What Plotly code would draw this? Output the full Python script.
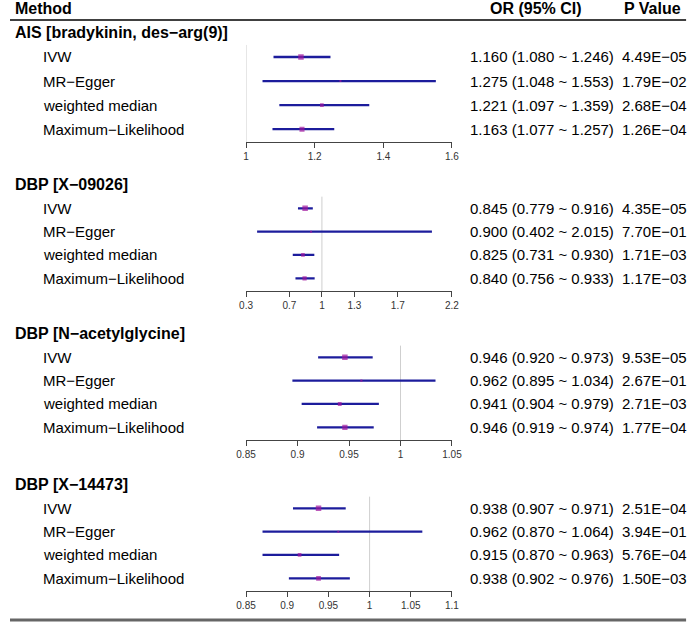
import math
import plotly.graph_objects as go

# ---------------- data ----------------
methods = ["IVW", "MR\u2212Egger", "weighted median", "Maximum\u2212Likelihood"]
panel_titles = ["AIS [bradykinin, des\u2212arg(9)]", "DBP [X\u221209026]",
                "DBP [N\u2212acetylglycine]", "DBP [X\u221214473]"]

or_est = [
    [1.160, 1.275, 1.221, 1.163],
    [0.845, 0.900, 0.825, 0.840],
    [0.946, 0.962, 0.941, 0.946],
    [0.938, 0.962, 0.915, 0.938],
]
ci_low = [
    [1.080, 1.048, 1.097, 1.077],
    [0.779, 0.402, 0.731, 0.756],
    [0.920, 0.895, 0.904, 0.919],
    [0.907, 0.870, 0.870, 0.902],
]
ci_high = [
    [1.246, 1.553, 1.359, 1.257],
    [0.916, 2.015, 0.930, 0.933],
    [0.973, 1.034, 0.979, 0.974],
    [0.971, 1.064, 0.963, 0.976],
]
p_values = [
    ["4.49E\u221205", "1.79E\u221202", "2.68E\u221204", "1.26E\u221204"],
    ["4.35E\u221205", "7.70E\u221201", "1.71E\u221203", "1.17E\u221203"],
    ["9.53E\u221205", "2.67E\u221201", "2.71E\u221203", "1.77E\u221204"],
    ["2.51E\u221204", "3.94E\u221201", "5.76E\u221204", "1.50E\u221203"],
]
tick_vals = [
    [1, 1.2, 1.4, 1.6],
    [0.3, 0.7, 1, 1.3, 1.7, 2.2],
    [0.85, 0.9, 0.95, 1, 1.05],
    [0.85, 0.9, 0.95, 1, 1.05, 1.1],
]
tick_text = [
    ["1", "1.2", "1.4", "1.6"],
    ["0.3", "0.7", "1", "1.3", "1.7", "2.2"],
    ["0.85", "0.9", "0.95", "1", "1.05"],
    ["0.85", "0.9", "0.95", "1", "1.05", "1.1"],
]

# ---------------- layout constants ----------------
W, H = 699, 625
FONT = "Liberation Sans, Arial, sans-serif"
ROW1_PX = [57.0, 208.3, 357.3, 508.3]
ROW4_PX = [129.2, 278.3, 427.3, 578.3]
X_LEFT_PX, X_RIGHT_PX = 243, 455
Y_TOP, Y_BOT = -0.55, 4.55
CI_COLOR = "#1c1c9c"
PT_COLOR = "#a0169e"
MAX_SIZE = 5.5


def px_x(p):
    return p / W


def px_y(p):
    return 1 - p / H


fig = go.Figure()
annotations = []
shapes = []
rows = [1, 2, 3, 4]

for k in range(4):
    n = k + 1
    xa = "x" if n == 1 else f"x{n}"
    ya = "y" if n == 1 else f"y{n}"
    unit = (ROW4_PX[k] - ROW1_PX[k]) / 3
    top_px = ROW1_PX[k] - (1 - Y_TOP) * unit
    bot_px = ROW4_PX[k] + (Y_BOT - 4) * unit

    se = [(math.log(h) - math.log(l)) / 3.92 for l, h in zip(ci_low[k], ci_high[k])]
    se_min = min(se)
    sizes = [max(2.0, MAX_SIZE * se_min / s) for s in se]

    fig.add_trace(go.Scatter(
        x=or_est[k], y=rows, mode="markers",
        marker=dict(symbol="square", size=sizes, color=PT_COLOR, line=dict(width=0)),
        error_x=dict(type="data", symmetric=False,
                     array=[h - e for h, e in zip(ci_high[k], or_est[k])],
                     arrayminus=[e - l for e, l in zip(or_est[k], ci_low[k])],
                     color=CI_COLOR, thickness=2.3, width=0),
        xaxis=xa, yaxis=ya, showlegend=False, hoverinfo="skip",
    ))

    lo, hi = tick_vals[k][0], tick_vals[k][-1]
    fig.layout[("xaxis" if n == 1 else f"xaxis{n}")] = dict(
        domain=[px_x(X_LEFT_PX), px_x(X_RIGHT_PX)], anchor=ya, range=[lo, hi],
        showgrid=False, zeroline=False, showline=True, linecolor="#444444", linewidth=1,
        ticks="outside", ticklen=5, tickcolor="#444444", tickwidth=1,
        tickvals=tick_vals[k], ticktext=tick_text[k],
        tickfont=dict(family=FONT, size=10, color="#333333"), fixedrange=True,
    )
    fig.layout[("yaxis" if n == 1 else f"yaxis{n}")] = dict(
        domain=[px_y(bot_px), px_y(top_px)], anchor=xa, range=[Y_BOT, Y_TOP],
        visible=False, fixedrange=True,
    )

    # reference line at OR = 1
    shapes.append(dict(type="line", xref=xa, yref=ya, x0=1, x1=1, y0=0.5, y1=Y_BOT,
                       line=dict(color="#cfcfcf", width=1), layer="below"))

    # panel title
    annotations.append(dict(text=f"<b>{panel_titles[k]}</b>", xref="paper", yref=ya,
                            x=px_x(3), y=0, xanchor="left", yanchor="middle",
                            showarrow=False, font=dict(family=FONT, size=16, color="#000")))
    for i in range(4):
        annotations.append(dict(text=methods[i], xref="paper", yref=ya, x=px_x(32), y=rows[i],
                                xanchor="left", yanchor="middle", showarrow=False,
                                font=dict(family=FONT, size=15, color="#000")))
        or_txt = f"{or_est[k][i]:.3f} ({ci_low[k][i]:.3f} ~ {ci_high[k][i]:.3f})"
        annotations.append(dict(text=or_txt, xref="paper", yref=ya, x=px_x(471), y=rows[i],
                                xanchor="left", yanchor="middle", showarrow=False,
                                font=dict(family=FONT, size=15, color="#000")))
        annotations.append(dict(text=p_values[k][i], xref="paper", yref=ya, x=px_x(628), y=rows[i],
                                xanchor="left", yanchor="middle", showarrow=False,
                                font=dict(family=FONT, size=15, color="#000")))

# header
annotations.append(dict(text="<b>Method</b>", xref="paper", yref="paper", x=px_x(3), y=px_y(9),
                        xanchor="left", yanchor="middle", showarrow=False,
                        font=dict(family=FONT, size=16, color="#000")))
annotations.append(dict(text="<b>OR (95% CI)</b>", xref="paper", yref="paper", x=px_x(542), y=px_y(9),
                        xanchor="center", yanchor="middle", showarrow=False,
                        font=dict(family=FONT, size=16, color="#000")))
annotations.append(dict(text="<b>P Value</b>", xref="paper", yref="paper", x=px_x(661), y=px_y(9),
                        xanchor="center", yanchor="middle", showarrow=False,
                        font=dict(family=FONT, size=16, color="#000")))
shapes.append(dict(type="line", xref="paper", yref="paper", x0=0, x1=px_x(696),
                   y0=px_y(20), y1=px_y(20), line=dict(color="#000000", width=1.3)))
shapes.append(dict(type="line", xref="paper", yref="paper", x0=0, x1=px_x(696),
                   y0=px_y(620), y1=px_y(620), line=dict(color="#666666", width=3)))

fig.update_layout(
    width=W, height=H, margin=dict(l=0, r=0, t=0, b=0),
    paper_bgcolor="white", plot_bgcolor="white",
    annotations=annotations, shapes=shapes, showlegend=False,
    font=dict(family=FONT),
)

fig.write_html(
    "out.html",
    config={"displayModeBar": False},
    post_script="document.body.style.margin='0';document.documentElement.style.overflow='hidden';",
)
